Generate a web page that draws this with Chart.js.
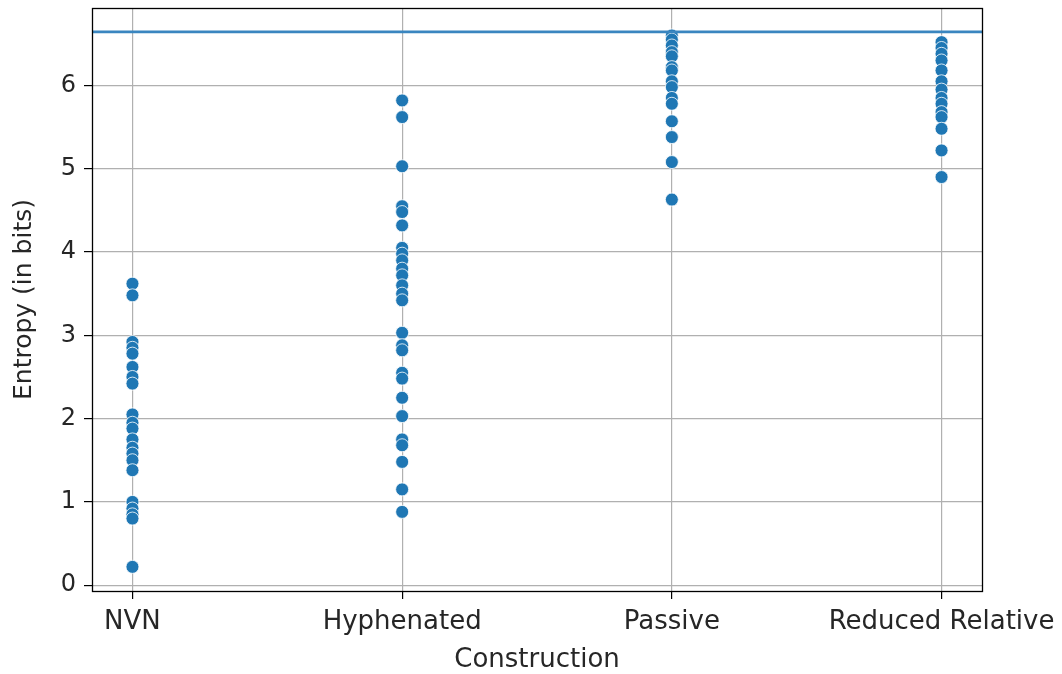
<!DOCTYPE html>
<html>
<head>
<meta charset="utf-8">
<script src="https://cdn.jsdelivr.net/npm/chart.js@4/dist/chart.umd.min.js"></script>
<style>
  html, body { margin: 0; padding: 0; background: #fff; }
  #wrap { width: 1062px; height: 674px; }
</style>
</head>
<body>
<div id="wrap"><canvas id="chart" width="1062" height="674"></canvas></div>
<script>
// categorias del eje x
const categories = ['NVN', 'Hyphenated', 'Passive', 'Reduced Relative'];

// entropia de cada item, por construccion
const nvnValues = [3.62, 3.48, 2.92, 2.85, 2.78, 2.62, 2.5, 2.42, 2.05, 1.95, 1.88, 1.75, 1.65, 1.58, 1.5, 1.38, 1.0, 0.92, 0.85, 0.8, 0.22];
const hyphenatedValues = [5.82, 5.62, 5.03, 4.55, 4.48, 4.32, 4.05, 3.98, 3.9, 3.8, 3.72, 3.6, 3.5, 3.42, 3.03, 2.88, 2.82, 2.55, 2.48, 2.25, 2.03, 1.75, 1.68, 1.48, 1.15, 0.88];
const passiveValues = [6.6, 6.55, 6.48, 6.4, 6.35, 6.22, 6.18, 6.05, 5.98, 5.85, 5.78, 5.57, 5.38, 5.08, 4.63];
const reducedValues = [6.52, 6.45, 6.38, 6.3, 6.18, 6.05, 5.95, 5.85, 5.78, 5.68, 5.62, 5.48, 5.22, 4.9];

// linea horizontal (maxima entropia)
const maxEntropy = 6.644;

const yTicks = [0, 1, 2, 3, 4, 5, 6];

const groups = [nvnValues, hyphenatedValues, passiveValues, reducedValues];
const scatterPoints = [];
groups.forEach((vals, i) => {
    vals.forEach(v => scatterPoints.push({ x: i, y: v }));
});

const xFont = { family: 'DejaVu Sans', size: 26 };
const yFont = { family: 'DejaVu Sans', size: 24 };

// borde negro alrededor del area del grafico
const frame = {
    id: 'frame',
    afterDraw(chart) {
        const a = chart.chartArea;
        const ctx = chart.ctx;
        ctx.save();
        ctx.strokeStyle = '#000';
        ctx.lineWidth = 1.3;
        ctx.strokeRect(Math.round(a.left) + 0.5, Math.round(a.top) + 0.5, Math.round(a.right - a.left), Math.round(a.bottom - a.top));
        ctx.restore();
    }
};

new Chart(document.getElementById('chart'), {
    type: 'scatter',
    data: {
        datasets: [
            {
                type: 'line',
                data: [{ x: -0.15, y: maxEntropy }, { x: 3.15, y: maxEntropy }],
                borderColor: '#3a86c0',
                borderWidth: 2.8,
                pointRadius: 0,
                order: 0
            },
            {
                data: scatterPoints,
                backgroundColor: '#1f77b4',
                borderColor: '#ffffff',
                borderWidth: 0.8,
                pointRadius: 6.5,
                order: 1
            }
        ]
    },
    plugins: [frame],
    options: {
        responsive: false,
        animation: false,
        plugins: { legend: { display: false }, tooltip: { enabled: false } },
        layout: { padding: { top: 8, right: 80, left: 0, bottom: 0 } },
        scales: {
            x: {
                type: 'linear',
                min: -0.15,
                max: 3.15,
                afterBuildTicks: s => { s.ticks = categories.map((c, i) => ({ value: i })); },
                afterFit: s => { s.height = 83; s.paddingLeft = 0; s.paddingRight = 0; },
                ticks: {
                    color: '#262626',
                    font: xFont,
                    padding: 8,
                    maxRotation: 0,
                    autoSkip: false,
                    callback: v => categories[v]
                },
                grid: { color: '#b0b0b0', lineWidth: 1.2, tickLength: 8, tickColor: '#000' },
                border: { display: false },
                title: { display: true, text: 'Construction', color: '#262626', font: { family: 'DejaVu Sans', size: 26, lineHeight: 1 }, padding: { top: 0, bottom: 1 } }
            },
            y: {
                min: -0.07,
                max: 6.93,
                afterBuildTicks: s => { s.ticks = yTicks.map(v => ({ value: v })); },
                afterFit: s => { s.width = 92; s.paddingTop = 0; s.paddingBottom = 0; },
                ticks: { color: '#262626', font: yFont, padding: 8 },
                grid: { color: '#b0b0b0', lineWidth: 1.2, tickLength: 8, tickColor: '#000' },
                border: { display: false },
                title: { display: true, text: 'Entropy (in bits)', color: '#262626', font: { family: 'DejaVu Sans', size: 25, lineHeight: 1 }, padding: { top: 12, bottom: 0 } }
            }
        }
    }
});
</script>
</body>
</html>
